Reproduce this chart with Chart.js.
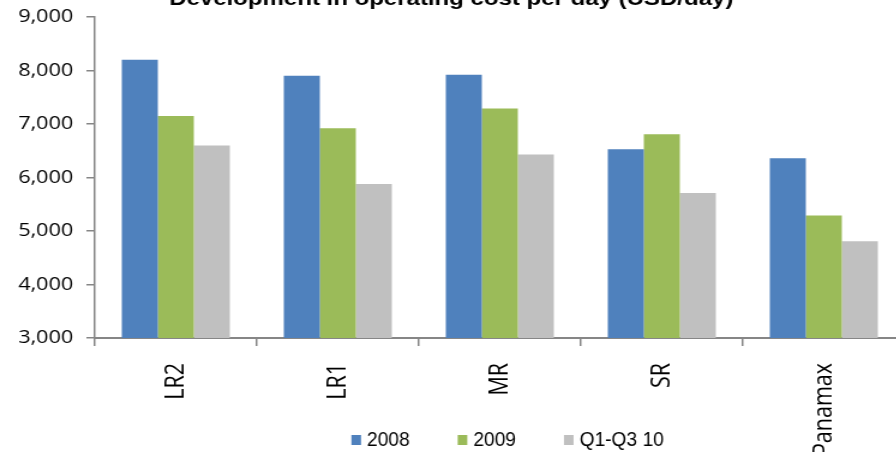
<!DOCTYPE html>
<html>
<head>
<meta charset="utf-8">
<script src="https://cdn.jsdelivr.net/npm/chart.js@4/dist/chart.umd.min.js"></script>
<style>
  html, body { margin: 0; padding: 0; background: #fff; overflow: hidden; }
  #wrap { width: 760px; height: 452px; transform: scaleX(1.2); transform-origin: 0 0; }
  canvas { display: block; }
</style>
</head>
<body>
<div id="wrap"><canvas id="c" width="760" height="452"></canvas></div>
<script>
// Operating cost per day by vessel class (USD/day)
const categories = ['LR2', 'LR1', 'MR', 'SR', 'Panamax'];
const seriesNames = ['2008', '2009', 'Q1-Q3 10'];
const cost2008 = [8200, 7900, 7920, 6530, 6360];
const cost2009 = [7150, 6920, 7290, 6810, 5290];
const costQ1Q3_10 = [6600, 5880, 6430, 5710, 4810];
const yTicks = [3000, 4000, 5000, 6000, 7000, 8000, 9000];

const colors = ['#4F81BD', '#9BBB59', '#C0C0C0'];
const axisColor = '#868686';
const chartTitle = 'Development in operating cost per day (USD/day)';

const titlePlugin = {
  id: 'topTitle',
  afterDraw(chart) {
    const ctx = chart.ctx;
    ctx.save();
    ctx.font = 'bold 20px "Liberation Sans", Arial, sans-serif';
    ctx.fillStyle = '#000';
    ctx.textAlign = 'center';
    ctx.textBaseline = 'alphabetic';
    ctx.fillText(chartTitle, 376, 5);
    ctx.restore();
  }
};

// Legend drawn under the plot with a condensed Arial-style face
const legendPlugin = {
  id: 'bottomLegend',
  afterDraw(chart) {
    const ctx = chart.ctx;
    const sets = chart.data.datasets;
    const squeeze = 0.82;
    ctx.save();
    ctx.font = '19.5px "Liberation Sans", Arial, sans-serif';
    ctx.textBaseline = 'middle';
    ctx.textAlign = 'left';
    const box = 8, boxH = 10, gapText = 5, gapItem = 40, cy = 440;
    const widths = sets.map(d => box + gapText + ctx.measureText(d.label).width * squeeze);
    const total = widths.reduce((a, b) => a + b, 0) + gapItem * (sets.length - 1);
    let x = 423 - total / 2;
    sets.forEach((d, i) => {
      ctx.fillStyle = d.backgroundColor;
      ctx.fillRect(x, cy - boxH / 2, box, boxH);
      ctx.save();
      ctx.translate(x + box + gapText, cy + 1);
      ctx.scale(squeeze, 1);
      ctx.fillStyle = '#000';
      ctx.fillText(d.label, 0, 0);
      ctx.restore();
      x += widths[i] + gapItem;
    });
    ctx.restore();
  }
};

new Chart(document.getElementById('c'), {
  type: 'bar',
  data: {
    labels: categories,
    datasets: [
      { label: seriesNames[0], data: cost2008, backgroundColor: colors[0] },
      { label: seriesNames[1], data: cost2009, backgroundColor: colors[1] },
      { label: seriesNames[2], data: costQ1Q3_10, backgroundColor: colors[2] }
    ]
  },
  options: {
    responsive: false,
    animation: false,
    layout: { padding: { top: 17, right: 6, left: 0, bottom: 0 } },
    datasets: { bar: { barPercentage: 1, categoryPercentage: 0.667, borderWidth: 0 } },
    plugins: {
      legend: { display: false },
      title: { display: false },
      tooltip: { enabled: false }
    },
    scales: {
      x: {
        grid: { display: true, drawOnChartArea: false, drawTicks: true, tickLength: 8, color: axisColor, lineWidth: 1.5, offset: true },
        border: { display: true, color: axisColor, width: 2 },
        ticks: {
          autoSkip: false, minRotation: 90, maxRotation: 90, padding: 17,
          color: '#000', font: { family: '"Open Sans", sans-serif', size: 21.5 }
        },
        afterFit(scale) {
          scale.height = 114;
          scale.paddingLeft = 0;
          scale.paddingRight = 0;
        }
      },
      y: {
        min: 3000, max: 9000,
        grid: { display: true, drawOnChartArea: false, drawTicks: true, tickLength: 7, color: axisColor, lineWidth: 1.5 },
        border: { display: true, color: axisColor, width: 1.5 },
        afterBuildTicks(scale) { scale.ticks = yTicks.map(v => ({ value: v })); },
        ticks: {
          padding: 11, color: '#000',
          font: { family: '"Open Sans", sans-serif', size: 18 },
          callback: v => Number(v).toLocaleString('en-US')
        },
        afterFit(scale) {
          scale.width = 79;
          scale.paddingTop = 0;
          scale.paddingBottom = 0;
        }
      }
    }
  },
  plugins: [titlePlugin, legendPlugin]
});
</script>
</body>
</html>
